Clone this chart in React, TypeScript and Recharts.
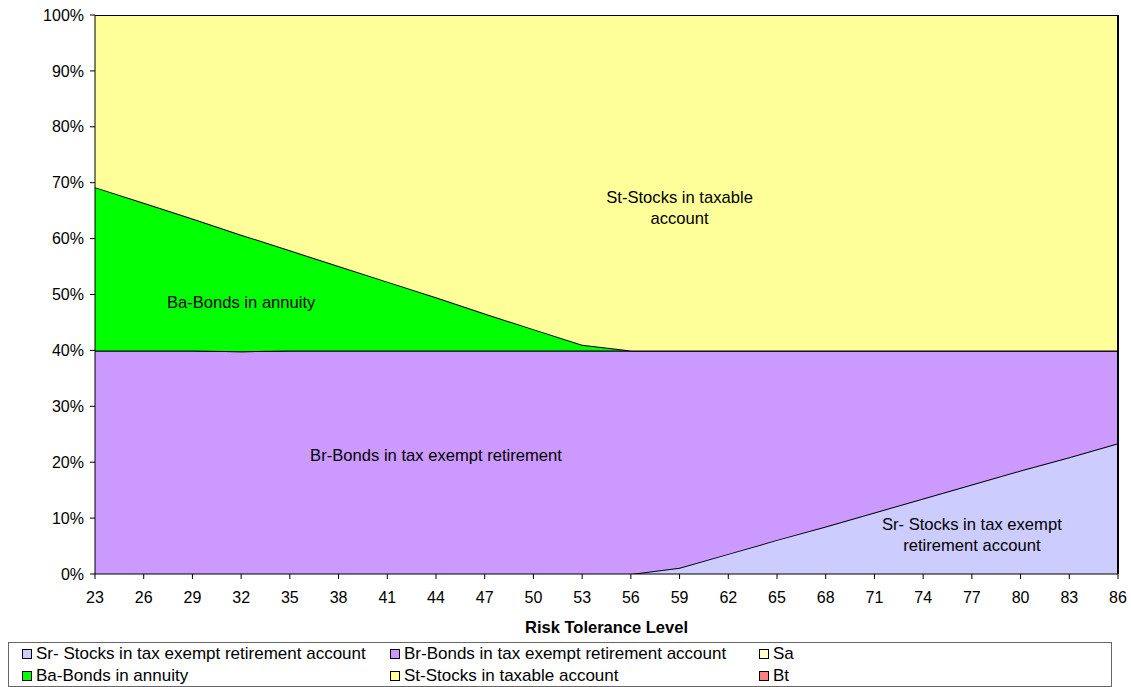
import React from "react";
import { AreaChart, Area, XAxis, YAxis, ReferenceLine, ReferenceDot, Label } from "recharts";

const levels = [23, 26, 29, 32, 35, 38, 41, 44, 47, 50, 53, 56, 59, 62, 65, 68, 71, 74, 77, 80, 83, 86];
const srValues = [0, 0, 0, 0, 0, 0, 0, 0, 0, 0, 0, 0, 1.1, 3.6, 6.1, 8.5, 11.0, 13.5, 16.0, 18.5, 20.9, 23.4];
const brTotals = [40, 40, 40, 39.85, 40, 40, 40, 40, 40, 40, 40, 40, 40, 40, 40, 40, 40, 40, 40, 40, 40, 40];
const saValues = levels.map(() => 0);
const baTops = [69.2, 66.4, 63.6, 60.7, 57.9, 55.1, 52.3, 49.5, 46.6, 43.8, 41.0, 40, 40, 40, 40, 40, 40, 40, 40, 40, 40, 40];
const btValues = levels.map(() => 0);
const yTicks = [0, 10, 20, 30, 40, 50, 60, 70, 80, 90, 100];

const seriesNames = {
  sr: "Sr- Stocks in tax exempt retirement account",
  br: "Br-Bonds in tax exempt retirement account",
  sa: "Sa",
  ba: "Ba-Bonds in annuity",
  st: "St-Stocks in taxable account",
  bt: "Bt",
};
const colors = {
  sr: "#CCCCFF",
  br: "#CC99FF",
  sa: "#FFFFCC",
  ba: "#00FF00",
  st: "#FFFF99",
  bt: "#FF8080",
};

const data = levels.map((lvl, i) => {
  const sr = srValues[i];
  const br = brTotals[i] - sr;
  const sa = saValues[i];
  const ba = baTops[i] - brTotals[i];
  const st = 100 - baTops[i] - btValues[i];
  return { level: lvl, sr, br, sa, ba: Math.max(0, ba), st, bt: btValues[i] };
});

const FONT = "Arial, 'Liberation Sans', sans-serif";

const textLabel = (lines: string[]) => (props: any) => {
  const { cx, cy } = props;
  const lh = 21;
  const start = cy - ((lines.length - 1) * lh) / 2;
  return (
    <text x={cx} y={start} textAnchor="middle" dominantBaseline="central" fontFamily={FONT} fontSize={16.6} fill="#000">
      {lines.map((l, i) => (
        <tspan key={i} x={cx} y={start + i * lh}>
          {l}
        </tspan>
      ))}
    </text>
  );
};

const legendOrder: (keyof typeof seriesNames)[] = ["sr", "br", "sa", "ba", "st", "bt"];
const SW = 2;

export default function App() {
  return (
    <div style={{ position: "absolute", left: 0, top: 0, width: 1131, height: 687, background: "#fff" }}>
      <AreaChart
        width={1131}
        height={687}
        data={data}
        margin={{ top: 15, right: 13, left: 0, bottom: 53 }}
      >
        <XAxis
          dataKey="level"
          type="category"
          tick={{ fontSize: 16, fill: "#000", fontFamily: FONT }}
          tickSize={5}
          tickMargin={13}
          axisLine={{ stroke: "#000" }}
          tickLine={{ stroke: "#000" }}
          height={60}
          interval={0}
        >
          <Label
            value="Risk Tolerance Level"
            position="insideBottom"
            offset={1}
            style={{ fontSize: 16.5, fontWeight: "bold", fill: "#000", fontFamily: FONT }}
          />
        </XAxis>
        <YAxis
          type="number"
          domain={[0, 100]}
          ticks={yTicks}
          tickFormatter={(v: number) => `${v}%`}
          tick={{ fontSize: 16, fill: "#000", fontFamily: FONT }}
          tickSize={5}
          tickMargin={6}
          width={95}
          axisLine={{ stroke: "#000" }}
          tickLine={{ stroke: "#000" }}
          allowDataOverflow
        />
        <Area type="linear" dataKey="sr" name={seriesNames.sr} stackId="1" fill={colors.sr} fillOpacity={1} stroke="#000" strokeWidth={SW} isAnimationActive={false} />
        <Area type="linear" dataKey="br" name={seriesNames.br} stackId="1" fill={colors.br} fillOpacity={1} stroke="#000" strokeWidth={SW} isAnimationActive={false} />
        <Area type="linear" dataKey="sa" name={seriesNames.sa} stackId="1" fill={colors.sa} fillOpacity={1} stroke="#000" strokeWidth={SW} isAnimationActive={false} />
        <Area type="linear" dataKey="ba" name={seriesNames.ba} stackId="1" fill={colors.ba} fillOpacity={1} stroke="#000" strokeWidth={SW} isAnimationActive={false} />
        <Area type="linear" dataKey="st" name={seriesNames.st} stackId="1" fill={colors.st} fillOpacity={1} stroke="#000" strokeWidth={SW} isAnimationActive={false} />
        <Area type="linear" dataKey="bt" name={seriesNames.bt} stackId="1" fill={colors.bt} fillOpacity={1} stroke="#000" strokeWidth={SW} isAnimationActive={false} />
        <ReferenceLine x={86} stroke="#000" strokeWidth={SW} />
        <ReferenceDot x={59} y={65.6} r={0} shape={textLabel(["St-Stocks in taxable", "account"])} />
        <ReferenceDot x={32} y={48.7} r={0} shape={textLabel(["Ba-Bonds in annuity"])} />
        <ReferenceDot x={44} y={21.3} r={0} shape={textLabel(["Br-Bonds in tax exempt retirement"])} />
        <ReferenceDot x={77} y={7.1} r={0} shape={textLabel(["Sr- Stocks in tax exempt", "retirement account"])} />
      </AreaChart>
      <div
        style={{
          position: "absolute",
          left: 8,
          top: 642,
          width: 1104,
          height: 45,
          boxSizing: "border-box",
          border: "1px solid #666",
          background: "#fff",
          fontFamily: FONT,
          fontSize: 17,
          color: "#000",
        }}
      >
        {legendOrder.map((k, i) => {
          const col = i % 3;
          const row = Math.floor(i / 3);
          const colX = [13, 381, 750][col];
          return (
            <div
              key={k}
              style={{
                position: "absolute",
                left: colX,
                top: row * 22,
                height: 22,
                display: "flex",
                alignItems: "center",
                whiteSpace: "nowrap",
              }}
            >
              <span
                style={{
                  display: "inline-block",
                  width: 8,
                  height: 8,
                  border: "1px solid #000",
                  background: colors[k],
                  marginRight: 4,
                }}
              />
              <span>{seriesNames[k]}</span>
            </div>
          );
        })}
      </div>
    </div>
  );
}
